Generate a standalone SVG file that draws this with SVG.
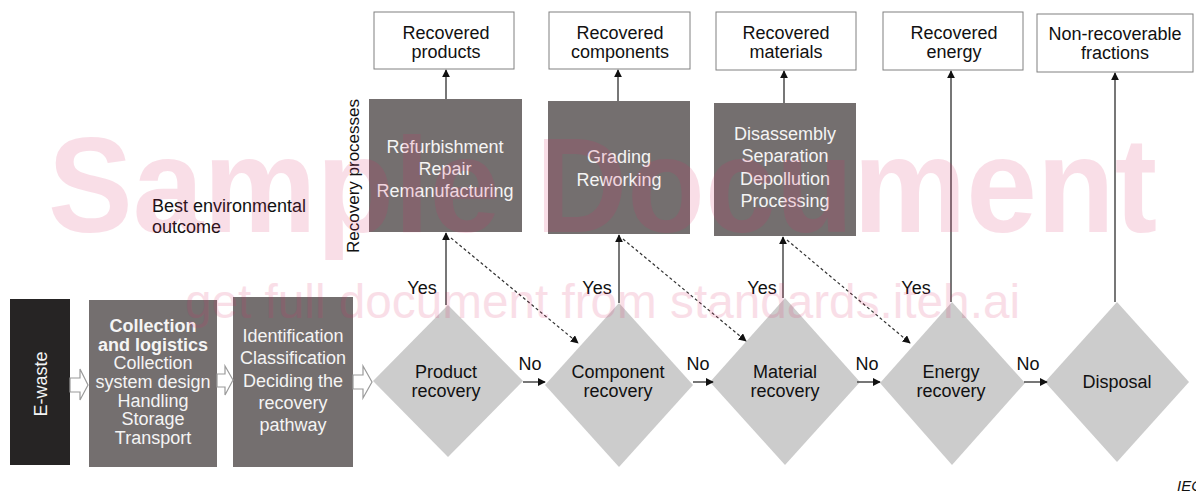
<svg xmlns="http://www.w3.org/2000/svg" width="1196" height="493" viewBox="0 0 1196 493">
<defs>
<style>
text{font-family:"Liberation Sans",Arial,sans-serif;}
.t{font-size:18px;fill:#111;text-anchor:middle;}
.w{font-size:18px;fill:#f4f4f4;text-anchor:middle;}
.wb{font-size:18px;fill:#f4f4f4;text-anchor:middle;font-weight:bold;}
.top{fill:#fff;stroke:#808080;stroke-width:1;}
.proc{fill:#746f6f;}
.dia{fill:#cccccc;}
.hol{fill:#fff;stroke:#9a9a9a;stroke-width:1.2;}
.ln{stroke:#4a4a4a;stroke-width:1.5;fill:none;}
.ds{stroke:#333;stroke-width:1.2;stroke-dasharray:3 2.5;fill:none;}
.wm{fill:#dc2864;opacity:0.15;}
</style>
<marker id="ah" viewBox="0 0 10 10" refX="9" refY="5" markerWidth="8" markerHeight="8" markerUnits="userSpaceOnUse" orient="auto">
<path d="M0,0 L10,5 L0,10 Z" fill="#111"/>
</marker>
</defs>
<rect width="1196" height="493" fill="#fff"/>

<g id="ewaste">
<rect x="10" y="299" width="60" height="166" fill="#262424"/>
<text class="w" transform="translate(47,384) rotate(-90)">E-waste</text>
</g>

<g id="collection">
<rect class="proc" x="89" y="300" width="128" height="167"/>
<text class="wb" x="153" y="332">Collection</text>
<text class="wb" x="153" y="351">and logistics</text>
<text class="w" x="153" y="369">Collection</text>
<text class="w" x="153" y="388">system design</text>
<text class="w" x="153" y="407">Handling</text>
<text class="w" x="153" y="425">Storage</text>
<text class="w" x="153" y="444">Transport</text>
</g>

<g id="identification">
<rect class="proc" x="233" y="297" width="120" height="170"/>
<text class="w" x="293" y="342">Identification</text>
<text class="w" x="293" y="364">Classification</text>
<text class="w" x="293" y="387">Deciding the</text>
<text class="w" x="293" y="409">recovery</text>
<text class="w" x="293" y="431">pathway</text>
</g>

<g id="hollow-arrows">
<polygon class="hol" points="70,378 80,378 80,369 88,385 80,400 80,392 70,392"/>
<polygon class="hol" points="217,374 225,374 225,366 233,380 225,395 225,387 217,387"/>
<polygon class="hol" points="353,375 363,375 363,366 372,382 363,398 363,389 353,389"/>
</g>

<g id="top-products">
<rect class="top" x="374" y="12" width="140" height="57"/>
<text class="t" x="446" y="39">Recovered</text>
<text class="t" x="446" y="58">products</text>
</g>
<g id="top-components">
<rect class="top" x="549" y="12" width="141" height="57"/>
<text class="t" x="620" y="39">Recovered</text>
<text class="t" x="620" y="58">components</text>
</g>
<g id="top-materials">
<rect class="top" x="716" y="12" width="140" height="58"/>
<text class="t" x="786" y="39">Recovered</text>
<text class="t" x="786" y="58">materials</text>
</g>
<g id="top-energy">
<rect class="top" x="883" y="12" width="140" height="58"/>
<text class="t" x="954" y="39">Recovered</text>
<text class="t" x="954" y="58">energy</text>
</g>
<g id="top-nonrecoverable">
<rect class="top" x="1037" y="14" width="156" height="58"/>
<text class="t" x="1115" y="40">Non-recoverable</text>
<text class="t" x="1115" y="59">fractions</text>
</g>

<g id="proc-product">
<rect class="proc" x="369" y="99" width="153" height="133"/>
<text class="w" x="445" y="153">Refurbishment</text>
<text class="w" x="445" y="175">Repair</text>
<text class="w" x="445" y="197">Remanufacturing</text>
</g>
<g id="proc-component">
<rect class="proc" x="548" y="101" width="142" height="133"/>
<text class="w" x="619" y="163">Grading</text>
<text class="w" x="619" y="186">Reworking</text>
</g>
<g id="proc-material">
<rect class="proc" x="714" y="103" width="142" height="133"/>
<text class="w" x="785" y="140">Disassembly</text>
<text class="w" x="785" y="162">Separation</text>
<text class="w" x="785" y="185">Depollution</text>
<text class="w" x="785" y="207">Processing</text>
</g>

<g id="d-product">
<polygon class="dia" points="448,305 523,381 448,457 373,381"/>
<text class="t" x="446" y="378">Product</text>
<text class="t" x="446" y="397">recovery</text>
</g>
<g id="d-component">
<polygon class="dia" points="619,303 693,385 619,467 545,385"/>
<text class="t" x="618" y="378">Component</text>
<text class="t" x="618" y="397">recovery</text>
</g>
<g id="d-material">
<polygon class="dia" points="785,298 860,382 785,465 710,382"/>
<text class="t" x="785" y="378">Material</text>
<text class="t" x="785" y="397">recovery</text>
</g>
<g id="d-energy">
<polygon class="dia" points="952,302 1025,383 952,465 880,383"/>
<text class="t" x="951" y="378">Energy</text>
<text class="t" x="951" y="397">recovery</text>
</g>
<g id="d-disposal">
<polygon class="dia" points="1117,302 1189,382 1117,462 1045,382"/>
<text class="t" x="1117" y="388">Disposal</text>
</g>

<g id="connectors">
<line class="ln" x1="446" y1="305" x2="446" y2="233" marker-end="url(#ah)"/>
<line class="ln" x1="446" y1="99" x2="446" y2="70" marker-end="url(#ah)"/>
<line class="ln" x1="619" y1="303" x2="619" y2="235" marker-end="url(#ah)"/>
<line class="ln" x1="618" y1="101" x2="618" y2="70" marker-end="url(#ah)"/>
<line class="ln" x1="783" y1="298" x2="783" y2="237" marker-end="url(#ah)"/>
<line class="ln" x1="784" y1="103" x2="784" y2="71" marker-end="url(#ah)"/>
<line class="ln" x1="951" y1="302" x2="951" y2="71" marker-end="url(#ah)"/>
<line class="ln" x1="1115" y1="302" x2="1115" y2="73" marker-end="url(#ah)"/>
<line class="ds" x1="451" y1="238" x2="578" y2="343" marker-end="url(#ah)"/>
<line class="ds" x1="623" y1="239" x2="746" y2="341" marker-end="url(#ah)"/>
<line class="ds" x1="787" y1="240" x2="910" y2="343" marker-end="url(#ah)"/>
<line class="ln" x1="523" y1="382" x2="545" y2="382" marker-end="url(#ah)"/>
<line class="ln" x1="693" y1="382" x2="713" y2="382" marker-end="url(#ah)"/>
<line class="ln" x1="857" y1="382" x2="880" y2="382" marker-end="url(#ah)"/>
<line class="ln" x1="1024" y1="382" x2="1047" y2="382" marker-end="url(#ah)"/>
<text class="t" x="422" y="294">Yes</text>
<text class="t" x="597" y="294">Yes</text>
<text class="t" x="762" y="294">Yes</text>
<text class="t" x="916" y="294">Yes</text>
<text class="t" x="530" y="370">No</text>
<text class="t" x="698" y="370">No</text>
<text class="t" x="867" y="370">No</text>
<text class="t" x="1028" y="370">No</text>
</g>

<g id="labels">
<text style="font-size:17px;fill:#111;text-anchor:middle;" transform="translate(359,176) rotate(-90)">Recovery processes</text>
<text style="font-size:18px;fill:#111;" x="152" y="212">Best environmental</text>
<text style="font-size:18px;fill:#111;" x="152" y="233">outcome</text>
<text style="font-size:15px;fill:#111;font-style:italic;" x="1177" y="491">IEC</text>
</g>

<g id="watermark">
<text class="wm" x="48" y="232" style="font-size:135px;font-weight:bold;" textLength="1109" lengthAdjust="spacingAndGlyphs">Sample Document</text>
<text class="wm" x="185" y="318" style="font-size:48px;" textLength="835" lengthAdjust="spacingAndGlyphs">get full document from standards.iteh.ai</text>
</g>
</svg>
